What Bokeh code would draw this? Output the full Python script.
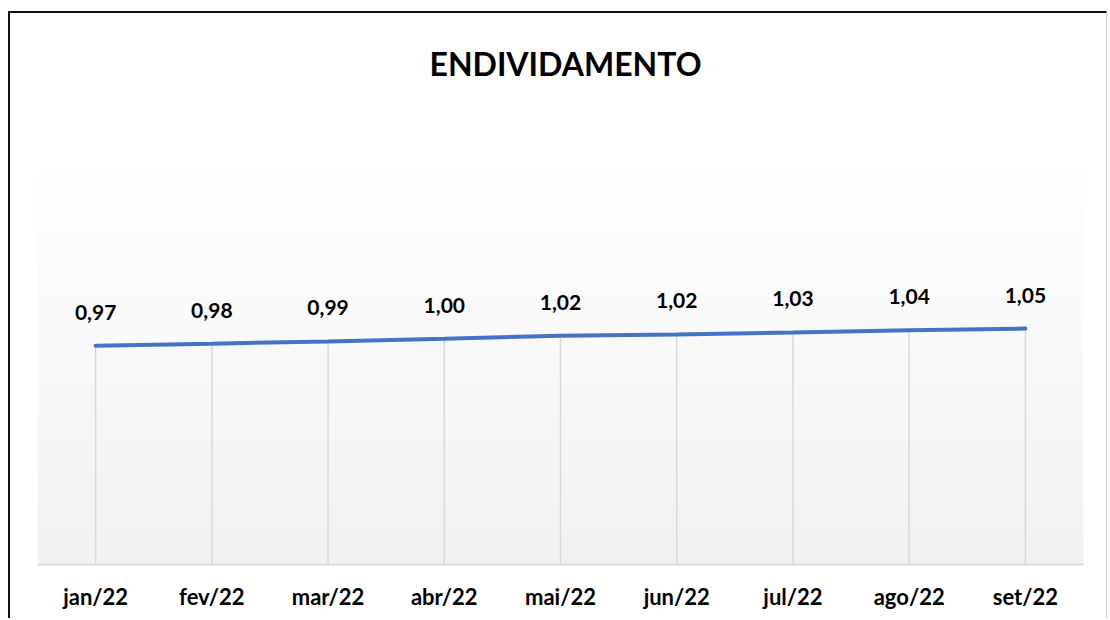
import numpy as np
from bokeh.plotting import figure
from bokeh.models import Range1d, ColumnDataSource, Label
from bokeh.core.properties import value
from bokeh.embed import file_html
from bokeh.resources import INLINE

# ---- data ----
months = ["jan/22", "fev/22", "mar/22", "abr/22", "mai/22", "jun/22", "jul/22", "ago/22", "set/22"]
endividamento = [0.972, 0.981, 0.991, 1.003, 1.016, 1.022, 1.031, 1.041, 1.048]
title_text = "ENDIVIDAMENTO"

xs = list(range(len(months)))
labels = [f"{v:.2f}".replace(".", ",") for v in endividamento]
src = ColumnDataSource(dict(x=xs, y=endividamento, base=[0] * len(xs), lab=labels))

# plot-area top (value) and the visible frame (frame also hosts the title area)
AREA_TOP = 1.75
AREA_PX = 394          # pixel height of shaded plot area
FRAME_PX = 534         # pixel height of the whole frame
Y_VIEW = AREA_TOP * FRAME_PX / AREA_PX
PX_PER_UNIT = AREA_PX / AREA_TOP

p = figure(width=1099, height=607, output_backend="svg", toolbar_location=None,
           x_range=Range1d(-0.5, len(months) - 0.5), y_range=Range1d(0, Y_VIEW),
           min_border_left=27, min_border_right=26, min_border_top=17, min_border_bottom=56)
p.styles = {"border-top": "2px solid #111111", "border-left": "2px solid #111111",
            "border-right": "1px solid #D0D0D0",
            "margin-left": "8px", "margin-top": "11px"}
p.outline_line_color = None
p.background_fill_color = "white"
p.border_fill_color = "white"
p.grid.visible = False
p.yaxis.visible = False

# background gradient for the plot area (bottom #F2F2F2 -> top white)
n = 200
g = np.linspace(242, 255, n).astype(np.uint32)
img = np.zeros((n, 1), dtype=np.uint32)
view = img.view(dtype=np.uint8).reshape((n, 1, 4))
view[:, 0, 0] = g
view[:, 0, 1] = g
view[:, 0, 2] = g
view[:, 0, 3] = 255
p.image_rgba(image=[img], x=-0.5, y=0, dw=len(months), dh=AREA_TOP)

# drop lines
p.segment(x0="x", y0="base", x1="x", y1="y", source=src, line_color="#D9D9D9", line_width=1.5)
# line
p.line(x="x", y="y", source=src, line_color="#4472C4", line_width=4, line_cap="round")
# data labels
p.text(x="x", y="y", text="lab", source=src, text_font=value("Lato"), text_font_style="bold",
       text_font_size="21px", text_align="center", text_baseline="bottom", y_offset=-26,
       text_color="#000000")

# axis
p.xaxis.ticker = xs
p.xaxis.major_label_overrides = {i: m for i, m in enumerate(months)}
p.xaxis.axis_line_color = "#D9D9D9"
p.xaxis.axis_line_width = 2
p.xaxis.major_tick_line_color = None
p.xaxis.minor_tick_line_color = None
p.xaxis.major_label_text_font = "Lato"
p.xaxis.major_label_text_font_style = "bold"
p.xaxis.major_label_text_font_size = "22px"
p.xaxis.major_label_text_color = "#000000"
p.xaxis.major_label_standoff = 12

# chart title (centred over the plot area, 501px above the axis)
p.add_layout(Label(x=(len(months) - 1) / 2, y=501 / PX_PER_UNIT, x_offset=5,
                   text=title_text, text_font="Lato", text_font_style="bold",
                   text_font_size="32px", text_color="#000000",
                   text_align="center", text_baseline="middle"))

open("out.html", "w").write(file_html(p, INLINE))
